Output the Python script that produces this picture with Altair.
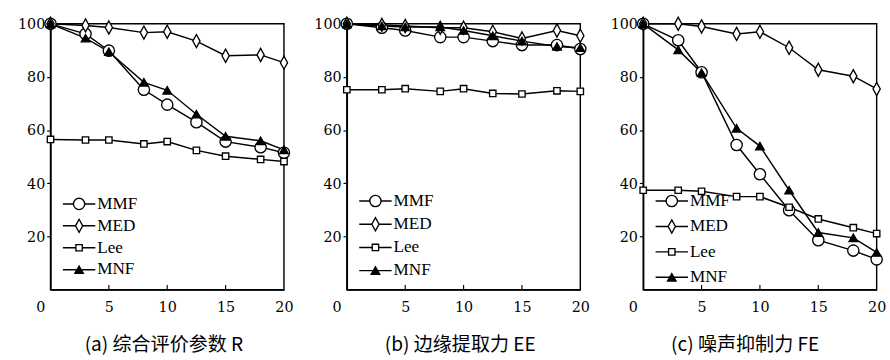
import altair as alt
import pandas as pd

x_vals = [0, 3, 5, 8, 10, 12.5, 15, 18, 20]
series = ["MMF", "MED", "Lee", "MNF"]

# (a) 综合评价参数 R
a_MMF = [100, 96.2, 89.9, 75.2, 69.6, 63.0, 55.7, 53.6, 51.5]
a_MED = [100, 99.4, 98.6, 96.7, 97.0, 93.5, 88.0, 88.3, 85.4]
a_Lee = [56.5, 56.3, 56.3, 54.8, 55.7, 52.4, 50.2, 49.0, 48.2]
a_MNF = [100, 94.6, 89.5, 78.0, 75.0, 66.0, 57.7, 56.0, 52.6]

# (b) 边缘提取力 EE
b_MMF = [100, 98.5, 97.5, 95.0, 95.0, 93.5, 92.0, 92.0, 90.5]
b_MED = [100, 99.6, 99.2, 98.5, 98.5, 97.0, 94.5, 97.5, 95.5]
b_Lee = [75.2, 75.2, 75.6, 74.6, 75.6, 73.8, 73.6, 74.8, 74.6]
b_MNF = [100, 99.2, 98.8, 98.8, 97.5, 95.5, 93.5, 91.5, 91.0]

# (c) 噪声抑制力 FE
c_MMF = [100, 93.8, 81.8, 54.4, 43.4, 29.9, 18.6, 14.7, 11.4]
c_MED = [100, 100, 99.0, 96.2, 97.0, 91.0, 82.7, 80.3, 75.5]
c_Lee = [37.4, 37.4, 37.0, 35.0, 35.0, 31.0, 26.6, 23.3, 21.1]
c_MNF = [100, 90.2, 81.6, 60.7, 54.0, 37.4, 21.5, 19.5, 14.0]

titles = ["(a) 综合评价参数 R", "(b) 边缘提取力 EE", "(c) 噪声抑制力 FE"]
x_ticks = [0, 5, 10, 15, 20]
x_inner_ticks = [5, 10, 15]
y_ticks = [20, 40, 60, 80, 100]

shapes = ["circle", "M0,-1L0.55,0L0,1L-0.55,0Z", "square", "triangle-up"]
sizes = [140, 190, 45, 80]
fills_a = ["white", "white", "white", "black"]
fills_b = ["white", "white", "white", "white"]
fills_c = ["white", "white", "white", "white"]

W, H = 245, 279
NUMFONT = "DejaVu Serif"
LEGFONT = "Liberation Serif"


def make_df(vals):
    rows = []
    for s, v in zip(series, vals):
        for xv, yv in zip(x_vals, v):
            rows.append({"s": s, "x": xv, "v": yv})
    return pd.DataFrame(rows)


def panel(vals, title, fills, leg_range, title_shift):
    df = make_df(vals)
    base = alt.Chart(df)
    xenc = alt.X(
        "x:Q",
        scale=alt.Scale(domain=[0, 20], nice=False),
        axis=alt.Axis(
            values=x_ticks,
            title=title,
            ticks=False,
            labelPadding=11,
            labelAlign={"expr": "datum.value === 0 ? 'right' : 'center'"},
            labelOffset={"condition": {"test": "datum.value === 0", "value": -6}, "value": 0},
            titlePadding=22,
            titleX=W / 2 + title_shift,
        ),
    )
    yenc = alt.Y(
        "v:Q",
        scale=alt.Scale(domain=[0, 100], nice=False),
        axis=alt.Axis(values=y_ticks, title=None, tickSize=4, labelPadding=2),
    )
    shape = alt.Shape("s:N", scale=alt.Scale(domain=series, range=shapes), legend=None)
    fill = alt.Fill("s:N", scale=alt.Scale(domain=series, range=fills), legend=None)
    size = alt.Size(
        "s:N", scale=alt.Scale(type="ordinal", domain=series, range=sizes), legend=None
    )

    lines = base.mark_line(color="black", strokeWidth=1.5).encode(x=xenc, y=yenc, detail="s:N")
    pts = base.mark_point(filled=True, stroke="black", strokeWidth=1.4, opacity=1).encode(
        x=alt.X("x:Q"), y=alt.Y("v:Q"), shape=shape, fill=fill, size=size
    )
    tdf = pd.DataFrame({"t": x_inner_ticks})
    ticks = alt.Chart(tdf).mark_rule(color="black", strokeWidth=1.2).encode(
        x=alt.X("t:Q"), y=alt.value(H), y2=alt.value(H - 5)
    )
    data_layer = alt.layer(lines, pts, ticks)

    ldf = pd.DataFrame({"s": series, "label": series})
    lb = alt.Chart(ldf)
    ly = alt.Y(
        "s:N",
        scale=alt.Scale(type="point", domain=series, range=leg_range, padding=0),
        axis=None,
    )
    lrule = lb.mark_rule(color="black", strokeWidth=1.5).encode(
        y=ly, x=alt.value(13), x2=alt.value(47)
    )
    lpts = lb.mark_point(filled=True, stroke="black", strokeWidth=1.4, opacity=1).encode(
        y=ly, x=alt.value(30), shape=shape, fill=fill, size=size
    )
    ltext = lb.mark_text(
        align="left", baseline="middle", font=LEGFONT, fontSize=18, color="black"
    ).encode(y=ly, x=alt.value(49), text="label:N")
    leg_layer = alt.layer(lrule, lpts, ltext)

    return alt.layer(data_layer, leg_layer).resolve_scale(y="independent").properties(
        width=W, height=H
    )


pa = panel([a_MMF, a_MED, a_Lee, a_MNF], titles[0], fills_a, [189, 258], -4)
pb = panel([b_MMF, b_MED, b_Lee, b_MNF], titles[1], fills_b, [186, 259], -4)
pc = panel([c_MMF, c_MED, c_Lee, c_MNF], titles[2], fills_c, [186, 266], -16)

chart = (
    alt.hconcat(pa, pb, pc, spacing=19)
    .properties(
        padding={"left": 17, "top": 5, "right": 3, "bottom": 0}, background="white"
    )
    .configure_view(stroke="black", strokeWidth=1.5)
    .configure_axis(
        labelFont=NUMFONT,
        labelFontSize=15,
        labelColor="black",
        domainColor="black",
        domainWidth=1.5,
        tickColor="black",
        tickWidth=1.2,
        grid=False,
        titleFont="Noto Sans CJK SC",
        titleFontSize=20,
        titleFontWeight="normal",
        titleColor="black",
    )
)

chart.save("out.html", embed_options={"renderer": "svg", "actions": False})
